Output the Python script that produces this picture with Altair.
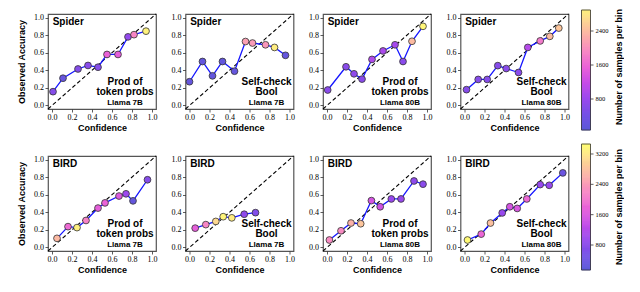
import altair as alt
import numpy as np
import pandas as pd

SANS = "Liberation Sans"
SERIF = "Liberation Serif"
TICKS = [0.0, 0.2, 0.4, 0.6, 0.8, 1.0]

# ---------------- data ----------------
# Spider - Prod of token probs - Llama 7B
sp_prod7_conf = [0.01, 0.11, 0.26, 0.36, 0.46, 0.55, 0.66, 0.76, 0.82, 0.94]
sp_prod7_acc = [0.157, 0.31, 0.415, 0.455, 0.435, 0.58, 0.58, 0.78, 0.805, 0.845]
sp_prod7_n = [600, 250, 600, 650, 600, 1550, 1500, 750, 1900, 2900]

# Spider - Self-check Bool - Llama 7B
sp_bool7_conf = [0.0, 0.13, 0.23, 0.33, 0.45, 0.56, 0.63, 0.76, 0.85, 0.96]
sp_bool7_acc = [0.27, 0.50, 0.337, 0.50, 0.39, 0.727, 0.71, 0.69, 0.66, 0.57]
sp_bool7_n = [220, 200, 200, 200, 230, 2150, 2100, 2050, 2850, 220]

# Spider - Prod of token probs - Llama 80B
sp_prod80_conf = [0.007, 0.19, 0.27, 0.35, 0.45, 0.56, 0.68, 0.76, 0.85, 0.96]
sp_prod80_acc = [0.176, 0.44, 0.36, 0.30, 0.524, 0.62, 0.69, 0.50, 0.73, 0.90]
sp_prod80_n = [650, 650, 700, 650, 1000, 950, 900, 650, 2400, 2950]

# Spider - Self-check Bool - Llama 80B
sp_bool80_conf = [0.02, 0.137, 0.227, 0.333, 0.417, 0.54, 0.633, 0.757, 0.853, 0.943]
sp_bool80_acc = [0.18, 0.296, 0.296, 0.453, 0.42, 0.375, 0.66, 0.734, 0.786, 0.88]
sp_bool80_n = [620, 620, 620, 620, 650, 650, 1050, 1800, 2400, 2500]

# BIRD - Prod of token probs - Llama 7B
bd_prod7_conf = [0.05, 0.16, 0.25, 0.34, 0.46, 0.53, 0.67, 0.74, 0.81, 0.955]
bd_prod7_acc = [0.104, 0.237, 0.226, 0.307, 0.448, 0.507, 0.585, 0.61, 0.53, 0.77]
bd_prod7_n = [2730, 1900, 3300, 2150, 1750, 1800, 1650, 1000, 300, 750]

# BIRD - Self-check Bool - Llama 7B
bd_bool7_conf = [0.057, 0.163, 0.263, 0.337, 0.423, 0.547, 0.66]
bd_bool7_acc = [0.22, 0.26, 0.296, 0.35, 0.337, 0.378, 0.396]
bd_bool7_n = [1750, 2200, 3050, 3350, 3250, 850, 700]

# BIRD - Prod of token probs - Llama 80B
bd_prod80_conf = [0.024, 0.14, 0.24, 0.337, 0.444, 0.532, 0.643, 0.74, 0.87, 0.96]
bd_prod80_acc = [0.085, 0.19, 0.278, 0.27, 0.533, 0.463, 0.552, 0.552, 0.756, 0.72]
bd_prod80_n = [2250, 2250, 2650, 2850, 1550, 1500, 950, 950, 850, 800]

# BIRD - Self-check Bool - Llama 80B
bd_bool80_conf = [0.03, 0.167, 0.26, 0.377, 0.453, 0.527, 0.623, 0.757, 0.847, 0.983]
bd_bool80_acc = [0.085, 0.152, 0.278, 0.393, 0.463, 0.444, 0.552, 0.715, 0.707, 0.848]
bd_bool80_n = [3400, 1850, 2800, 950, 1550, 1600, 1850, 950, 950, 400]

# colour bar extents (number of samples per bin)
spider_range = [70, 3035]
spider_ticks = [800, 1600, 2400]
bird_range = [141, 3463]
bird_ticks = [800, 1600, 2400, 3200]

# ---------------- style ----------------
STOPS = ["#5a5ad8", "#7550e6", "#9a48ee", "#c64ce8", "#ea62d8",
         "#f888c4", "#fcb0a8", "#fdd892", "#ffff70"]
W, H = 108, 95
CBW = 9
XO = -16.5          # colour bar offset inside its (flush) cell
DOM = [-0.04, 1.04]


def cscale(rng):
    return alt.Scale(domain=np.linspace(rng[0], rng[1], len(STOPS)).tolist(),
                     range=STOPS, interpolate="rgb")


def label(s, x, y, size, align="center", angle=0):
    return alt.Chart(pd.DataFrame({"t": [s]})).mark_text(
        font=SANS, fontWeight="bold", fontSize=size, align=align,
        baseline="middle", color="black", angle=angle
    ).encode(x=alt.value(x), y=alt.value(y), text="t:N")


def panel(conf, acc, n, dataset, method, model, rng, first):
    df = pd.DataFrame({"conf": conf, "acc": acc, "n": n})
    xsc = alt.Scale(domain=DOM, nice=False, zero=False)
    ysc = alt.Scale(domain=DOM, nice=False, zero=False)
    xenc = alt.X("conf:Q", scale=xsc,
                 axis=alt.Axis(values=TICKS, format=".1f", title="Confidence"))
    if first:
        yenc = alt.Y("acc:Q", scale=ysc,
                     axis=alt.Axis(values=TICKS, format=".1f", title="Observed Accuracy"))
    else:
        yenc = alt.Y("acc:Q", scale=ysc,
                     axis=alt.Axis(values=TICKS, format=".1f"), title=None)
    diag = alt.Chart(pd.DataFrame({"conf": DOM, "acc": DOM})).mark_line(
        color="black", strokeWidth=1.1, strokeDash=[4, 2.5]
    ).encode(x=xenc, y=yenc)
    line = alt.Chart(df).mark_line(color="#1515ff", strokeWidth=1.3).encode(
        x=xenc, y=yenc)
    pts = alt.Chart(df).mark_circle(size=46, opacity=1, stroke="#333333",
                                    strokeWidth=0.8).encode(
        x=xenc, y=yenc,
        color=alt.Color("n:Q", scale=cscale(rng), legend=None))
    if method == "prod":
        cx, l1, l2 = 77, "Prod of", "token probs"
    else:
        cx, l1, l2 = 81, "Self-check", "Bool"
    layers = [diag, line, pts,
              label(dataset, 4.7, 7.5, 10, align="left"),
              label(l1, cx, 68, 10),
              label(l2, cx, 78, 10),
              label(model, cx, 88.5, 8)]
    return alt.layer(*layers).properties(
        width=W, height=H,
        view=alt.ViewBackground(stroke="#555555", strokeWidth=1.2))


def colorbar(rng, top, ydom, ticks, title_y):
    ysc = alt.Scale(domain=ydom, nice=False, zero=False)
    e = np.linspace(rng[0], top, 121)
    gdf = pd.DataFrame({"lo": e[:-1], "hi": e[1:], "mid": (e[:-1] + e[1:]) / 2})
    grad = alt.Chart(gdf).mark_rect(strokeWidth=0.6).encode(
        x=alt.value(XO), x2=alt.value(XO + CBW),
        y=alt.Y("lo:Q", scale=ysc, axis=None), y2="hi:Q",
        color=alt.Color("mid:Q", scale=cscale(rng), legend=None),
        stroke=alt.Stroke("mid:Q", scale=cscale(rng), legend=None))
    frame = alt.Chart(pd.DataFrame({"lo": [rng[0]], "hi": [top]})).mark_rect(
        fillOpacity=0, stroke="#333333", strokeWidth=0.8).encode(
        x=alt.value(XO), x2=alt.value(XO + CBW),
        y=alt.Y("lo:Q", scale=ysc, axis=None), y2="hi:Q")
    tdf = pd.DataFrame({"v": ticks})
    tk = alt.Chart(tdf).mark_rule(color="#333333", strokeWidth=0.8).encode(
        x=alt.value(XO + CBW), x2=alt.value(XO + CBW + 3),
        y=alt.Y("v:Q", scale=ysc, axis=None))
    lb = alt.Chart(tdf).mark_text(font=SERIF, fontSize=6.5, align="left",
                                  baseline="middle", color="black").encode(
        x=alt.value(XO + CBW + 5), y=alt.Y("v:Q", scale=ysc, axis=None),
        text=alt.Text("v:Q", format="d"))
    ttl = label("Number of samples per bin", XO + CBW + 28, title_y, 9, angle=270)
    return alt.layer(grad, frame, tk, lb, ttl).properties(
        width=CBW, height=H,
        view=alt.ViewBackground(stroke="transparent"))


charts = [
    panel(sp_prod7_conf, sp_prod7_acc, sp_prod7_n, "Spider", "prod", "Llama 7B", spider_range, True),
    panel(sp_bool7_conf, sp_bool7_acc, sp_bool7_n, "Spider", "bool", "Llama 7B", spider_range, False),
    panel(sp_prod80_conf, sp_prod80_acc, sp_prod80_n, "Spider", "prod", "Llama 80B", spider_range, False),
    panel(sp_bool80_conf, sp_bool80_acc, sp_bool80_n, "Spider", "bool", "Llama 80B", spider_range, False),
    colorbar(spider_range, 2894, [565, 2800], spider_ticks, 53),
    panel(bd_prod7_conf, bd_prod7_acc, bd_prod7_n, "BIRD", "prod", "Llama 7B", bird_range, True),
    panel(bd_bool7_conf, bd_bool7_acc, bd_bool7_n, "BIRD", "bool", "Llama 7B", bird_range, False),
    panel(bd_prod80_conf, bd_prod80_acc, bd_prod80_n, "BIRD", "prod", "Llama 80B", bird_range, False),
    panel(bd_bool80_conf, bd_bool80_acc, bd_bool80_n, "BIRD", "bool", "Llama 80B", bird_range, False),
    colorbar(bird_range, bird_range[1], [642, 3147], bird_ticks, 51),
]

chart = alt.concat(
    *charts, columns=5, spacing={"row": 47, "column": 29.5}, bounds="flush"
).resolve_scale(
    color="independent", stroke="independent"
).properties(
    padding={"left": 8, "top": 0, "right": 0, "bottom": 0}
).configure_view(
    stroke="transparent"
).configure_axis(
    labelFont=SERIF, labelFontSize=8, labelColor="black",
    titleFont=SANS, titleFontWeight="bold", titleFontSize=9, titleColor="black",
    tickSize=3, tickColor="#333333", tickWidth=0.8,
    domain=False, grid=False, labelPadding=1.5, titlePadding=2
).configure_axisY(titlePadding=7)

chart.save("out.html", embed_options={"renderer": "svg", "actions": False})
